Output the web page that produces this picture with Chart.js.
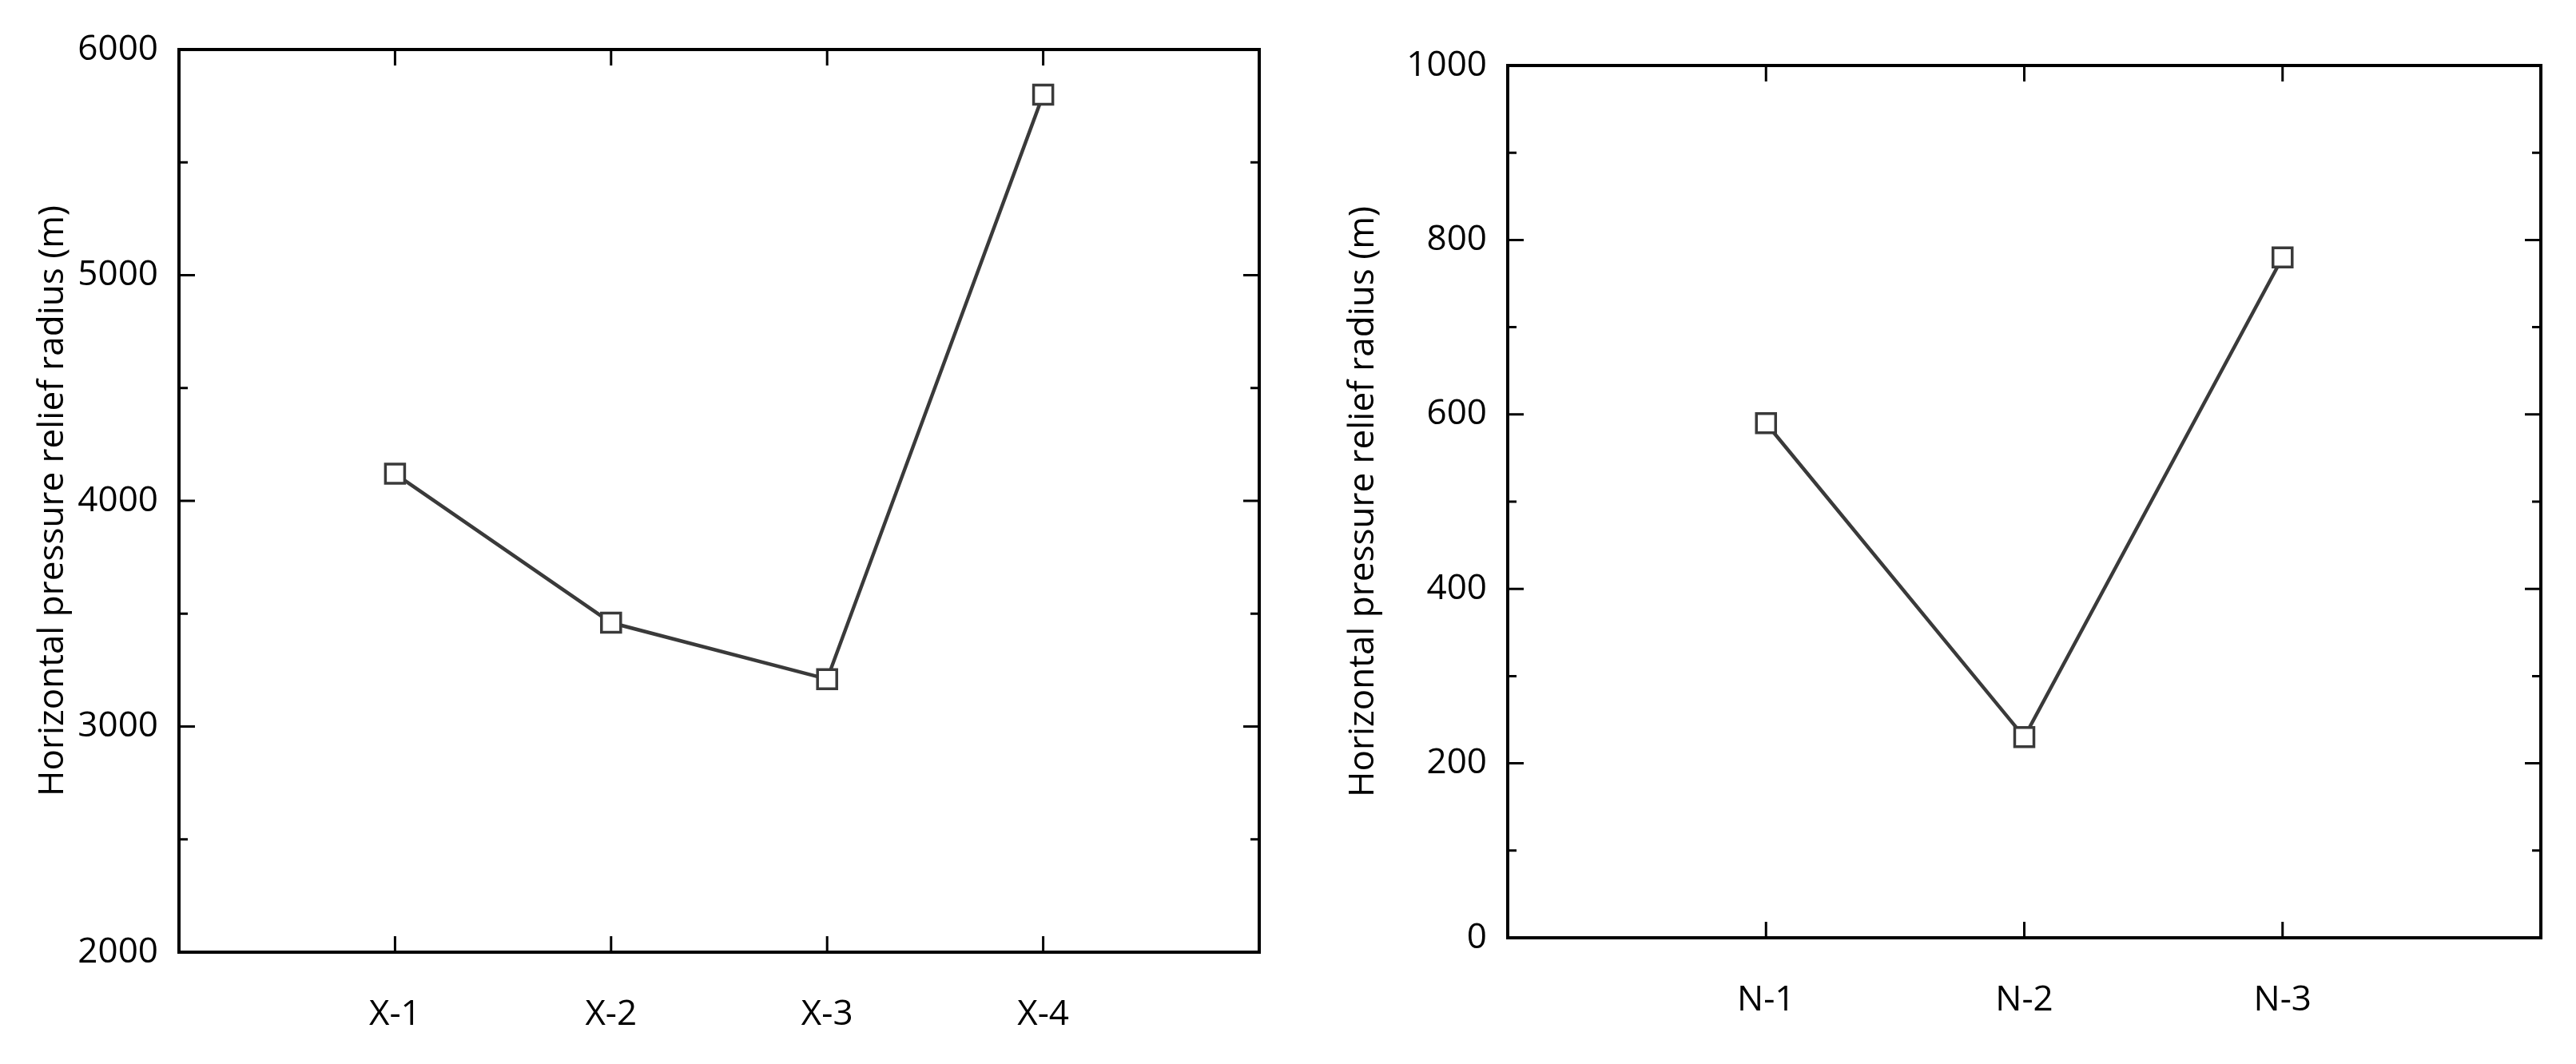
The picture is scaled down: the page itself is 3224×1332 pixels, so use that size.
<!DOCTYPE html>
<html><head><meta charset="utf-8">
<script src="https://cdn.jsdelivr.net/npm/chart.js@4/dist/chart.umd.min.js"></script>
<style>body{margin:0;background:#fff;width:3224px;height:1332px;position:relative;overflow:hidden}
canvas{position:absolute;top:0}</style></head><body>
<div id="w1" style="position:absolute;left:0;top:0;width:1620px;height:1332px"><canvas id="c1"></canvas></div>
<div id="w2" style="position:absolute;left:1640px;top:0;width:1584px;height:1332px"><canvas id="c2"></canvas></div>
<script>
const xCategories = ['X-1','X-2','X-3','X-4'];
const xValues = [4120, 3460, 3210, 5800];
const nCategories = ['N-1','N-2','N-3'];
const nValues = [590, 230, 780];
const yTitle = 'Horizontal pressure relief radius (m)';

const framePlugin = {
  id:'frame',
  afterDraw(chart, args, o){
    const {ctx, chartArea:a, scales:{x,y}} = chart;
    ctx.save();
    ctx.strokeStyle='#000';
    ctx.lineWidth=3;
    for(let v=o.ymin; v<=o.ymax+1e-9; v+=o.minor){
      const py=y.getPixelForValue(v);
      const major=Math.abs(v/o.major-Math.round(v/o.major))<1e-6;
      const L=major?20:11;
      ctx.beginPath();ctx.moveTo(a.left,py);ctx.lineTo(a.left+L,py);
      ctx.moveTo(a.right,py);ctx.lineTo(a.right-L,py);ctx.stroke();
    }
    for(let i=1;i<=o.n;i++){
      const px=x.getPixelForValue(i);
      ctx.beginPath();ctx.moveTo(px,a.bottom);ctx.lineTo(px,a.bottom-20);
      ctx.moveTo(px,a.top);ctx.lineTo(px,a.top+20);ctx.stroke();
    }
    ctx.lineWidth=4;
    ctx.strokeRect(a.left,a.top,a.right-a.left,a.bottom-a.top);
    ctx.restore();
  }
};

function make(id, cats, vals, ymin, ymax, major, minor, yw, top, right, xh, lp){
  const data = vals.map((v,i)=>({x:i+1,y:v}));
  new Chart(document.getElementById(id),{
    type:'line',
    data:{datasets:[{data, borderColor:'#3a3a3a', borderWidth:4.5, pointStyle:'rect',
      pointRadius:17, pointHoverRadius:17, pointBackgroundColor:'#fff', pointBorderColor:'#3a3a3a', pointBorderWidth:3.5, tension:0}]},
    options:{
      responsive:true, maintainAspectRatio:false, animation:false, devicePixelRatio:1,
      layout:{padding:{top, right, left:lp, bottom:0}},
      plugins:{legend:{display:false}, tooltip:{enabled:false},
        frame:{ymin, ymax, major, minor, n:cats.length}},
      scales:{
        x:{type:'linear', min:0, max:cats.length+1,
          grid:{display:false}, border:{display:false},
          ticks:{stepSize:1, autoSkip:false, maxRotation:0, padding:44, color:'#000',
            font:{family:'Open Sans', size:44},
            callback:(v)=> (v>=1 && v<=cats.length && Number.isInteger(v)) ? cats[v-1] : ''},
          afterFit(s){s.height=xh;}},
        y:{min:ymin, max:ymax,
          grid:{display:false}, border:{display:false},
          ticks:{stepSize:major, padding:18, color:'#000', font:{family:'Open Sans', size:44},
            callback:(v)=>String(v)},
          title:{display:true, text:yTitle, color:'#000', font:{family:'Open Sans', size:44}, padding:{top:0,bottom:8}},
          afterFit(s){s.width=yw;}}
      }
    },
    plugins:[framePlugin]
  });
}
make('c1', xCategories, xValues, 2000, 6000, 1000, 500, 184, 62, 41, 140, 40);
make('c2', nCategories, nValues, 0, 1000, 200, 100, 207, 82, 41, 158, 40);
</script></body></html>
